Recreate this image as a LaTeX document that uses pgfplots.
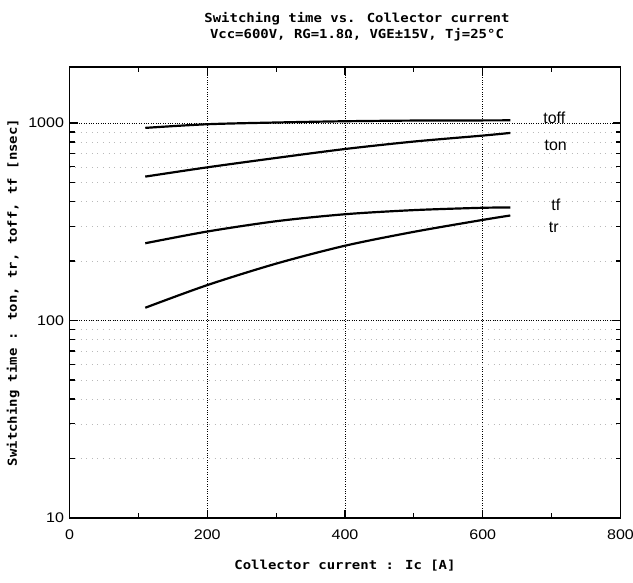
\documentclass[border=0pt]{standalone}
\usepackage{pgfplots}
\pgfplotsset{compat=1.18}
\usepackage{fontspec}
\setmainfont{Liberation Sans}
\newfontfamily\monof[FakeStretch=1.12]{DejaVu Sans Mono}
\newfontfamily\tickf[FakeStretch=1.15]{Liberation Sans}
\begin{document}
\begin{tikzpicture}
\useasboundingbox (0,0) rectangle (633bp,583bp);
\begin{axis}[
  at={(69.5bp,65bp)}, anchor=south west,
  width=551bp, height=451bp, scale only axis,
  xmin=0, xmax=800, ymin=10, ymax=1920,
  ymode=log,
  xtick={0,200,400,600,800},
  minor x tick num=1,
  ytick={10,100,1000},
  yticklabels={10,100,1000},
  tick align=inside,
  major tick length=8bp, minor tick length=5bp,
  every tick/.style={black, line width=1.2pt},
  axis line style={line width=1.5pt},
  grid=major,
  major grid style={black, line width=0.6pt, dash pattern=on 0.8pt off 1.6pt},
  yminorgrids=true,
  minor grid style={gray!55, line width=0.5pt, dash pattern=on 0.6pt off 5pt},
  ticklabel style={font=\tickf\fontsize{14}{16}\selectfont},
  /pgf/number format/assume math mode=true,
  xticklabel style={yshift=-8bp},
  yticklabel style={xshift=-2bp},
  xlabel={Collector current : Ic [A]},
  ylabel={Switching time : ton, tr, toff, tf [nsec]},
  label style={font=\monof\bfseries\fontsize{12.5}{14}\selectfont},
  xlabel style={yshift=-14bp},
  ylabel style={yshift=2bp},
  title style={align=center, yshift=16bp, xshift=12bp, font=\monof\bfseries\fontsize{12.5}{16}\selectfont},
  title={Switching time vs. Collector current\\Vcc=600V, RG=1.8Ω, VGE±15V, Tj=25°C},
  clip=false,
]
\addplot[black, line width=2.2pt, smooth] coordinates {(110,944) (200,985) (300,1005) (400,1020) (500,1028) (600,1030) (640,1031)};
\addplot[black, line width=2.2pt, smooth] coordinates {(110,535) (200,596) (300,665) (400,738) (500,805) (600,863) (640,890)};
\addplot[black, line width=2.2pt, smooth] coordinates {(110,246) (200,282) (300,318) (400,345) (500,362) (600,372) (640,373)};
\addplot[black, line width=2.2pt, smooth] coordinates {(110,116) (200,151) (300,194) (400,239) (500,281) (600,323) (640,340)};
\node[font=\fontsize{16}{18}\selectfont] at (axis cs:704,1060) {toff};
\node[font=\fontsize{16}{18}\selectfont] at (axis cs:706,773) {ton};
\node[font=\fontsize{16}{18}\selectfont] at (axis cs:706,384) {tf};
\node[font=\fontsize{16}{18}\selectfont] at (axis cs:703,296) {tr};
\end{axis}
\end{tikzpicture}
\end{document}
